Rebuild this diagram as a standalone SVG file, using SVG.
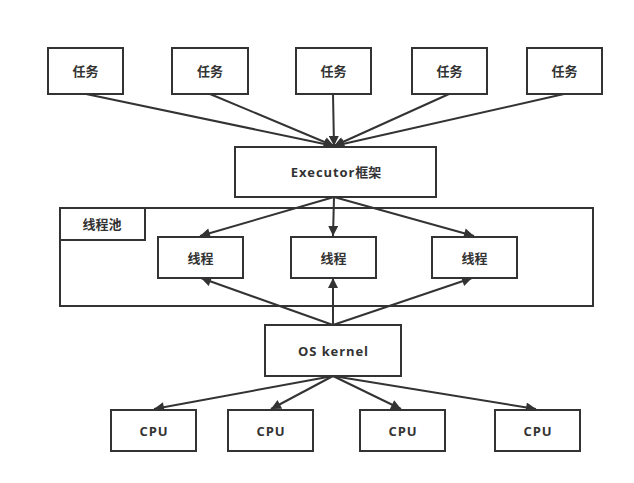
<svg xmlns="http://www.w3.org/2000/svg" width="634" height="483" viewBox="0 0 634 483">
<defs>
<style>
.box{fill:#fff;stroke:#333;stroke-width:2}
.t{font-family:"Open Sans","Noto Sans CJK SC",sans-serif;font-size:13px;font-weight:bold;fill:#333;text-anchor:middle;dominant-baseline:central}
.l{letter-spacing:0.9px}
.c{fill:none;stroke:#333;stroke-width:2}
</style>
<marker id="ah" viewBox="0 0 10 10" refX="10" refY="5" markerWidth="6.5" markerHeight="5" markerUnits="strokeWidth" orient="auto">
<path d="M0,0 L10,5 L0,10 Z" fill="#333"/>
</marker>
</defs>
<rect width="634" height="483" fill="#fff"/>
<g id="pool">
<rect class="box" x="60" y="208" width="533" height="98"/>
<rect class="box" x="60" y="208" width="85" height="32"/>
<text class="t" x="102" y="224">线程池</text>
</g>
<g id="connectors">
<line class="c" x1="86" y1="94" x2="334" y2="146" marker-end="url(#ah)"/>
<line class="c" x1="210" y1="94" x2="334" y2="146" marker-end="url(#ah)"/>
<line class="c" x1="333" y1="94" x2="334" y2="146" marker-end="url(#ah)"/>
<line class="c" x1="449" y1="94" x2="334" y2="146" marker-end="url(#ah)"/>
<line class="c" x1="564" y1="94" x2="334" y2="146" marker-end="url(#ah)"/>
<line class="c" x1="334" y1="197" x2="200" y2="236" marker-end="url(#ah)"/>
<line class="c" x1="334" y1="197" x2="333" y2="236" marker-end="url(#ah)"/>
<line class="c" x1="334" y1="197" x2="474" y2="236" marker-end="url(#ah)"/>
<line class="c" x1="333" y1="325" x2="201" y2="278" marker-end="url(#ah)"/>
<line class="c" x1="333" y1="325" x2="333" y2="278" marker-end="url(#ah)"/>
<line class="c" x1="333" y1="325" x2="472" y2="278" marker-end="url(#ah)"/>
<line class="c" x1="333" y1="376" x2="154" y2="409" marker-end="url(#ah)"/>
<line class="c" x1="333" y1="376" x2="271" y2="409" marker-end="url(#ah)"/>
<line class="c" x1="333" y1="376" x2="401" y2="409" marker-end="url(#ah)"/>
<line class="c" x1="333" y1="376" x2="536" y2="409" marker-end="url(#ah)"/>
</g>
<g id="task1"><rect class="box" x="48" y="48" width="75" height="46"/><text class="t" x="85.5" y="71">任务</text></g>
<g id="task2"><rect class="box" x="172" y="48" width="76" height="46"/><text class="t" x="210" y="71">任务</text></g>
<g id="task3"><rect class="box" x="296" y="48" width="75" height="46"/><text class="t" x="333.5" y="71">任务</text></g>
<g id="task4"><rect class="box" x="412" y="48" width="75" height="46"/><text class="t" x="449.5" y="71">任务</text></g>
<g id="task5"><rect class="box" x="527" y="48" width="75" height="46"/><text class="t" x="564.5" y="71">任务</text></g>
<g id="executor"><rect class="box" x="235" y="147" width="201" height="50"/><text class="t" x="336" y="172"><tspan class="l">Executor</tspan>框架</text></g>
<g id="thread1"><rect class="box" x="158" y="237" width="85" height="41"/><text class="t" x="200.5" y="257.5">线程</text></g>
<g id="thread2"><rect class="box" x="291" y="237" width="85" height="41"/><text class="t" x="333.5" y="257.5">线程</text></g>
<g id="thread3"><rect class="box" x="432" y="237" width="85" height="41"/><text class="t" x="474.5" y="257.5">线程</text></g>
<g id="kernel"><rect class="box" x="265" y="325" width="136" height="51"/><text class="t l" x="333.5" y="350.5">OS kernel</text></g>
<g id="cpu1"><rect class="box" x="111" y="410" width="85" height="41"/><text class="t l" x="154" y="430.5">CPU</text></g>
<g id="cpu2"><rect class="box" x="228" y="410" width="85" height="41"/><text class="t l" x="271" y="430.5">CPU</text></g>
<g id="cpu3"><rect class="box" x="360" y="410" width="85" height="41"/><text class="t l" x="403" y="430.5">CPU</text></g>
<g id="cpu4"><rect class="box" x="495" y="410" width="85" height="41"/><text class="t l" x="538" y="430.5">CPU</text></g>
</svg>
